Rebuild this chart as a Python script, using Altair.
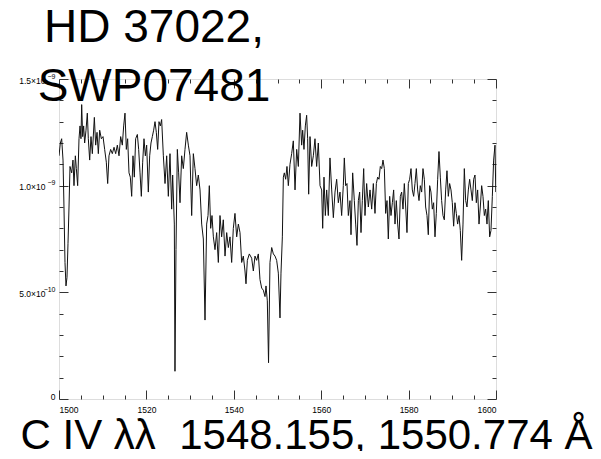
import altair as alt
import pandas as pd

# Wavelength (Angstrom) and flux (units of 1e-9)
wavelength = [
    1500.00, 1500.31, 1500.61, 1500.92, 1501.14, 1501.37, 1501.60, 1501.83, 1502.06, 1502.29,
    1502.52, 1502.90, 1503.20, 1503.43, 1503.74, 1503.97, 1504.27, 1504.58, 1504.81, 1505.03,
    1505.19, 1505.42, 1505.64, 1505.87, 1506.18, 1506.48, 1506.71, 1507.02, 1507.32, 1507.63,
    1508.09, 1508.39, 1508.70, 1509.00, 1509.31, 1509.69, 1510.07, 1510.45, 1510.83, 1511.14,
    1511.44, 1511.82, 1512.20, 1512.59, 1512.97, 1513.35, 1513.73, 1514.11, 1514.49, 1514.80,
    1515.10, 1515.41, 1515.71, 1516.02, 1516.32, 1516.63, 1516.93, 1517.24, 1517.54, 1517.93,
    1518.23, 1518.54, 1518.84, 1519.15, 1519.45, 1519.76, 1520.06, 1520.44, 1520.75, 1521.05,
    1521.36, 1521.66, 1521.97, 1522.27, 1522.58, 1522.88, 1523.19,
    1523.49, 1523.88, 1524.26, 1524.64, 1525.02, 1525.40, 1525.78, 1526.01, 1526.39, 1526.54,
    1526.77, 1527.08, 1527.38, 1527.69, 1528.07, 1528.45, 1528.83, 1529.21, 1529.60, 1529.98,
    1530.36, 1530.74, 1531.12, 1531.50, 1531.88, 1532.27, 1532.65, 1533.03, 1533.41, 1533.79,
    1534.10, 1534.40, 1534.71, 1535.01, 1535.32, 1535.70, 1536.08, 1536.46, 1536.84, 1537.22,
    1537.60, 1537.99, 1538.37, 1538.75, 1539.13, 1539.51, 1539.89, 1540.27, 1540.66, 1541.04,
    1541.42, 1541.80, 1542.18, 1542.56, 1542.79, 1543.10, 1543.55, 1544.09, 1544.47, 1544.85,
    1545.23, 1545.61, 1545.99, 1546.38, 1546.76, 1547.14, 1547.37, 1547.67, 1547.95,
    1548.28, 1548.67, 1549.05, 1549.43, 1549.81, 1550.19, 1550.57, 1550.80, 1551.11, 1551.34,
    1551.56, 1551.87, 1552.17, 1552.48, 1552.86, 1553.24, 1553.62, 1554.01, 1554.39, 1554.77,
    1555.15, 1555.53, 1555.76, 1556.06, 1556.37, 1556.67, 1556.90, 1557.13, 1557.44, 1557.82,
    1558.20, 1558.58, 1558.96, 1559.34, 1559.73, 1560.11, 1560.34, 1560.64, 1560.95, 1561.25,
    1561.63, 1562.01, 1562.40, 1562.78, 1563.16, 1563.54, 1563.92, 1564.30, 1564.68, 1565.06,
    1565.29, 1565.60, 1565.90, 1566.21, 1566.59, 1566.82, 1567.20, 1567.58, 1567.89, 1568.19,
    1568.50, 1568.80, 1569.11, 1569.41, 1569.72, 1570.02, 1570.40, 1570.79, 1571.17, 1571.55,
    1571.93,
    1572.31, 1572.62, 1572.92, 1573.23, 1573.53, 1573.84, 1574.14, 1574.45, 1574.75, 1575.06,
    1575.36, 1575.67, 1575.97, 1576.28, 1576.58, 1576.89, 1577.19, 1577.50, 1577.80, 1578.11,
    1578.41, 1578.72, 1579.02, 1579.33, 1579.63, 1579.94, 1580.24, 1580.55, 1580.85, 1581.16,
    1581.46, 1581.77, 1582.07, 1582.38, 1582.68, 1582.99, 1583.29, 1583.60, 1583.90, 1584.21,
    1584.51, 1584.82, 1585.12, 1585.43, 1585.73, 1586.04, 1586.34, 1586.65, 1586.95, 1587.26,
    1587.56, 1587.87, 1588.17, 1588.48, 1588.78, 1589.09, 1589.39, 1589.70, 1590.00, 1590.31,
    1590.61, 1590.92, 1591.22, 1591.53, 1591.83, 1592.14, 1592.45, 1592.75, 1593.06, 1593.36,
    1593.67, 1593.97, 1594.28, 1594.58, 1594.89, 1595.19, 1595.50, 1595.80, 1596.11, 1596.41,
    1596.72, 1597.02, 1597.33, 1597.63, 1597.94, 1598.24, 1598.55, 1598.85, 1599.16, 1599.46,
    1599.77, 1599.95,
]

flux = [
    1.14, 1.20, 1.22, 1.12, 0.90, 0.64, 0.53, 0.57, 0.73, 0.90,
    1.09, 1.06, 1.12, 1.00, 1.14, 1.08, 1.00, 1.22, 1.28, 1.22,
    1.38, 1.23, 1.28, 1.20, 1.26, 1.34, 1.22, 1.12, 1.23, 1.15,
    1.32, 1.19, 1.25, 1.15, 1.26, 1.22, 1.23, 1.17, 1.11, 1.01,
    1.14, 1.17, 1.15, 1.18, 1.15, 1.19, 1.14, 1.23, 1.19, 1.28,
    1.34, 1.17, 1.22, 1.06, 1.04, 0.95, 1.14, 1.04, 1.22, 1.24,
    1.17, 1.06, 0.95, 1.11, 1.22, 1.14, 1.19, 0.97, 1.14, 1.20,
    1.23, 1.26, 1.30, 1.25, 1.17, 1.30, 1.28,
    1.31, 1.14, 1.01, 1.14, 0.95, 1.15, 0.89, 1.05, 0.82, 0.13,
    0.70, 1.17, 1.06, 0.92, 1.14, 1.08, 1.17, 1.25, 1.19, 1.14,
    0.86, 1.15, 1.08, 1.00, 1.05, 0.98, 0.82, 0.75, 0.37, 0.82,
    0.86, 1.00, 0.80, 0.86, 0.76, 0.70, 0.78, 0.64, 0.86, 0.76,
    0.84, 0.67, 0.78, 0.71, 0.76, 0.64, 0.80, 0.87, 0.76, 0.82,
    0.78, 0.64, 0.67, 0.60, 0.54, 0.65, 0.68, 0.66, 0.60, 0.67,
    0.65, 0.68, 0.56, 0.52, 0.51, 0.48, 0.53, 0.46, 0.17,
    0.64, 0.71, 0.68, 0.67, 0.65, 0.59, 0.38, 0.59, 0.76, 1.04,
    1.06, 1.03, 1.09, 1.00, 1.10, 1.15, 1.21, 0.98, 1.17, 1.09,
    1.34, 1.19, 1.26, 1.17, 1.28, 1.33, 1.22, 0.96, 1.23, 1.09,
    1.14, 1.22, 1.09, 1.20, 1.00, 0.98, 0.80, 1.04, 0.86, 0.98,
    0.86, 1.13, 0.98, 0.85, 0.97, 1.03, 0.92, 0.97, 0.86, 1.00,
    1.13, 1.00, 1.01, 0.86, 0.93, 0.77, 1.06, 0.93, 0.82, 0.72,
    0.93, 0.97, 0.78, 0.93, 1.08, 0.86, 1.01, 0.90, 0.98, 0.89,
    1.01,
    0.87, 1.01, 1.04, 1.03, 1.09, 1.08, 1.12, 1.08, 0.87, 0.93,
    0.75, 0.95, 0.86, 0.92, 0.98, 0.82, 0.93, 0.82, 0.75, 0.95,
    0.97, 0.89, 1.01, 0.90, 0.78, 1.01, 1.03, 1.08, 0.98, 0.95,
    1.01, 1.08, 0.98, 0.93, 1.00, 0.97, 1.08, 1.03, 0.90, 0.86,
    0.77, 1.00, 0.97, 0.89, 0.92, 0.76, 0.87, 1.03, 1.16, 1.04,
    0.93, 0.86, 0.84, 0.98, 1.07, 0.95, 1.01, 0.98, 0.92, 0.81,
    0.92, 0.87, 0.82, 0.86, 0.79, 0.65, 0.82, 1.08, 0.93, 0.90,
    0.98, 1.03, 0.98, 0.93, 1.03, 1.05, 0.92, 0.98, 0.82, 0.90,
    1.00, 0.95, 0.86, 0.89, 0.82, 0.93, 0.76, 0.79, 0.95, 1.12,
    1.19, 0.97,
]

x_major = [1500, 1520, 1540, 1560, 1580, 1600]
x_minor = [1505, 1510, 1515, 1525, 1530, 1535, 1545, 1550, 1555,
           1565, 1570, 1575, 1585, 1590, 1595]
y_major = [0, 0.5, 1.0, 1.5]
y_minor = [0.1, 0.2, 0.3, 0.4, 0.6, 0.7, 0.8, 0.9, 1.1, 1.2, 1.3, 1.4]

title_lines = ["HD 37022,", "SWP07481"]
x_title = "C IV \u03bb\u03bb\u00a0 1548.155, 1550.774 \u00c5"

df = pd.DataFrame({"wavelength": wavelength, "flux": flux})
title_df = pd.DataFrame({"label": ["\n".join(title_lines)]})

FONT = "Liberation Sans"
TICK = "#333333"
xs = alt.Scale(domain=[1500, 1600], nice=False, zero=False)
ys = alt.Scale(domain=[0, 1.5], nice=False, zero=False)

# mantissa part of the y labels ("1.5×10") and raised exponent part ("−9")
y_mant_expr = (
    "datum.value == 0 ? '' : datum.value == 0.5 ? '5.0\u00d710' : "
    "format(datum.value, '.1f') + '\u00d710'"
)
y_exp_expr = (
    "datum.value == 0 ? '0' : datum.value == 0.5 ? '\u221210' : '\u22129'"
)


def ax(orient, values, size, **kw):
    return alt.Axis(
        orient=orient, values=values, tickSize={"expr": str(-size)},
        tickColor=TICK, tickWidth=1, domain=False, grid=False, **kw
    )


base = alt.Chart(df)

main = base.mark_line(color="#111111", strokeWidth=1, clip=True).encode(
    x=alt.X("wavelength:Q", scale=xs, axis=ax(
        "bottom", x_major, 9, labelPadding=15, format="d",
        labelFont=FONT, labelFontSize=8.5, labelColor="black",
        title=x_title, titleFont=FONT, titleFontSize=42, titleFontWeight="normal",
        titleColor="black", titleX=247, titleY=49, titleAlign="center",
        titleBaseline="alphabetic", titleAngle=0)),
    y=alt.Y("flux:Q", scale=ys, axis=ax(
        "left", y_major, 9, labelPadding=23, labelExpr=y_mant_expr, labelOffset=1,
        labelFont=FONT, labelFontSize=8.5, labelColor="black", title=None)),
)

exponents = base.mark_line(opacity=0).encode(
    x=alt.X("wavelength:Q", scale=xs, axis=None),
    y=alt.Y("flux:Q", scale=ys, axis=alt.Axis(
        orient="left", values=y_major, ticks=False, domain=False, grid=False,
        labelPadding=4, labelExpr=y_exp_expr, labelFont=FONT,
        labelFontSize={"condition": {"test": "datum.value == 0", "value": 8.5}, "value": 7},
        labelOffset=-3, labelColor="black", title=None)),
)

minor_bl = base.mark_line(opacity=0).encode(
    x=alt.X("wavelength:Q", scale=xs, axis=ax("bottom", x_minor, 4, labels=False, title=None)),
    y=alt.Y("flux:Q", scale=ys, axis=ax("left", y_minor, 4, labels=False, title=None)),
)

major_tr = base.mark_line(opacity=0).encode(
    x=alt.X("wavelength:Q", scale=xs, axis=ax("top", x_major, 9, labels=False, title=None)),
    y=alt.Y("flux:Q", scale=ys, axis=ax("right", y_major, 9, labels=False, title=None)),
)

minor_tr = base.mark_line(opacity=0).encode(
    x=alt.X("wavelength:Q", scale=xs, axis=ax("top", x_minor, 4, labels=False, title=None)),
    y=alt.Y("flux:Q", scale=ys, axis=ax("right", y_minor, 4, labels=False, title=None)),
)

title_text = alt.Chart(title_df).mark_text(
    font=FONT, fontSize=46, color="black", align="center", baseline="alphabetic",
    lineBreak="\n", lineHeight=59,
).encode(
    text="label:N",
    x=alt.value(95),
    y=alt.value(-37),
)

chart = (
    alt.layer(main, exponents, minor_bl, major_tr, minor_tr, title_text)
    .resolve_axis(x="independent", y="independent")
    .properties(
        width=437,
        height=320,
        autosize=alt.AutoSizeParams(type="none"),
        padding={"left": 51, "top": 71, "right": 97, "bottom": 52},
    )
    .configure_view(stroke="#222222", strokeWidth=1)
    .configure(background="white")
)

chart.save("out.html", embed_options={"renderer": "svg", "actions": False})
